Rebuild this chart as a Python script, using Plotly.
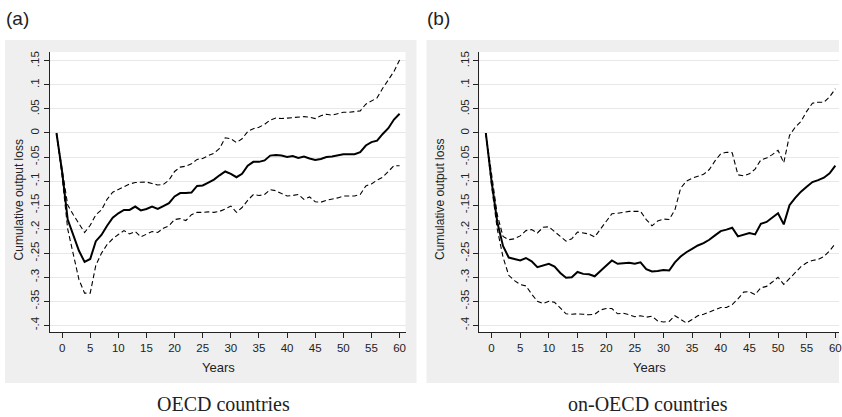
import plotly.graph_objects as go

years = list(range(-1, 61))

# Panel (a) OECD countries
oecd_mid = [0, -0.08, -0.18, -0.213, -0.245, -0.268, -0.262, -0.225, -0.212, -0.193, -0.176,
            -0.167, -0.160, -0.160, -0.153, -0.161, -0.158, -0.153, -0.158, -0.152, -0.146,
            -0.132, -0.125, -0.125, -0.124, -0.110, -0.109, -0.103, -0.097, -0.088, -0.080,
            -0.085, -0.092, -0.085, -0.068, -0.060, -0.060, -0.057, -0.047, -0.046, -0.047,
            -0.050, -0.048, -0.052, -0.049, -0.053, -0.056, -0.054, -0.050, -0.049, -0.047,
            -0.044, -0.044, -0.044, -0.040, -0.026, -0.019, -0.016, -0.002, 0.010, 0.028, 0.040]
oecd_up = [0, -0.075, -0.150, -0.170, -0.188, -0.207, -0.192, -0.170, -0.160, -0.138, -0.123,
           -0.117, -0.112, -0.106, -0.103, -0.102, -0.102, -0.105, -0.108, -0.107, -0.098,
           -0.080, -0.071, -0.069, -0.064, -0.055, -0.053, -0.047, -0.042, -0.032, -0.010,
           -0.012, -0.020, -0.012, 0.003, 0.009, 0.012, 0.018, 0.027, 0.031, 0.030,
           0.031, 0.032, 0.034, 0.034, 0.033, 0.030, 0.036, 0.039, 0.037, 0.040,
           0.043, 0.043, 0.044, 0.046, 0.060, 0.066, 0.073, 0.093, 0.110, 0.128, 0.152]
oecd_lo = [0, -0.090, -0.200, -0.250, -0.305, -0.333, -0.333, -0.275, -0.250, -0.232, -0.220,
           -0.211, -0.203, -0.210, -0.205, -0.216, -0.210, -0.205, -0.207, -0.198, -0.193,
           -0.180, -0.178, -0.182, -0.170, -0.165, -0.165, -0.164, -0.165, -0.163, -0.158,
           -0.152, -0.165, -0.155, -0.140, -0.128, -0.130, -0.128, -0.118, -0.120, -0.126,
           -0.131, -0.130, -0.128, -0.138, -0.133, -0.143, -0.144, -0.140, -0.138, -0.135,
           -0.131, -0.131, -0.131, -0.128, -0.110, -0.106, -0.098, -0.092, -0.080, -0.068, -0.068]

# Panel (b) non-OECD countries
non_mid = [0, -0.100, -0.185, -0.235, -0.259, -0.262, -0.265, -0.260, -0.267, -0.279, -0.275,
           -0.272, -0.278, -0.291, -0.301, -0.300, -0.289, -0.293, -0.294, -0.298, -0.287,
           -0.275, -0.265, -0.272, -0.271, -0.270, -0.272, -0.269, -0.283, -0.288, -0.287,
           -0.285, -0.286, -0.269, -0.257, -0.248, -0.241, -0.234, -0.229, -0.222, -0.213,
           -0.204, -0.201, -0.197, -0.215, -0.211, -0.208, -0.211, -0.189, -0.185, -0.176,
           -0.167, -0.190, -0.150, -0.135, -0.122, -0.112, -0.102, -0.098, -0.093, -0.084, -0.068]
non_up = [0, -0.090, -0.170, -0.215, -0.222, -0.220, -0.214, -0.203, -0.201, -0.208, -0.196,
          -0.195, -0.206, -0.215, -0.225, -0.220, -0.206, -0.208, -0.210, -0.216, -0.200,
          -0.185, -0.168, -0.167, -0.165, -0.163, -0.163, -0.163, -0.180, -0.193, -0.183,
          -0.179, -0.180, -0.160, -0.115, -0.100, -0.094, -0.090, -0.086, -0.076, -0.058,
          -0.043, -0.040, -0.041, -0.087, -0.089, -0.085, -0.075, -0.056, -0.052, -0.045,
          -0.036, -0.062, -0.005, 0.012, 0.024, 0.045, 0.062, 0.064, 0.064, 0.075, 0.092]
non_lo = [0, -0.110, -0.200, -0.258, -0.296, -0.307, -0.315, -0.318, -0.335, -0.350, -0.355,
          -0.350, -0.352, -0.363, -0.376, -0.377, -0.376, -0.377, -0.378, -0.377, -0.368,
          -0.365, -0.365, -0.376, -0.375, -0.378, -0.382, -0.380, -0.383, -0.381, -0.391,
          -0.393, -0.392, -0.380, -0.387, -0.395, -0.388, -0.380, -0.377, -0.372, -0.368,
          -0.363, -0.363, -0.357, -0.345, -0.331, -0.330, -0.336, -0.322, -0.319, -0.310,
          -0.300, -0.315, -0.303, -0.290, -0.278, -0.270, -0.265, -0.263, -0.257, -0.245, -0.230]

ytick_vals = [0.15, 0.1, 0.05, 0, -0.05, -0.1, -0.15, -0.2, -0.25, -0.3, -0.35, -0.4]
ytick_text = [".15", ".1", ".05", "0", "-.05", "-.1", "-.15", "-.2", "-.25", "-.3", "-.35", "-.4"]
xtick_vals = list(range(0, 61, 5))

W, H = 842, 417
fig = go.Figure()

def px(x):
    return x / W

def py(y):
    return 1 - y / H

panels = [
    ("x", "y", oecd_mid, oecd_up, oecd_lo),
    ("x2", "y2", non_mid, non_up, non_lo),
]
for xa, ya, mid, up, lo in panels:
    for s in (up, lo):
        fig.add_trace(go.Scatter(x=years, y=s, xaxis=xa, yaxis=ya, mode="lines",
                                 line=dict(color="black", width=1.1, dash="5px,3px"),
                                 showlegend=False, hoverinfo="skip"))
    fig.add_trace(go.Scatter(x=years, y=mid, xaxis=xa, yaxis=ya, mode="lines",
                             line=dict(color="black", width=2),
                             showlegend=False, hoverinfo="skip"))

# gray outer regions and white plot regions
for x0, x1, px0, px1 in [(5, 418, 50, 407), (428, 842, 481, 842)]:
    fig.add_shape(type="rect", xref="paper", yref="paper", x0=px(x0), x1=px(x1),
                  y0=py(383), y1=py(39), fillcolor="#EFEFEF", line_width=0, layer="below")
    fig.add_shape(type="rect", xref="paper", yref="paper", x0=px(px0), x1=px(px1),
                  y0=py(332), y1=py(51), fillcolor="white", line_width=0, layer="below")

font_sans = "Liberation Sans, Arial, sans-serif"
axis_common = dict(showline=True, linecolor="#222222", linewidth=1.3, ticks="outside",
                   ticklen=5, tickcolor="#222222", tickwidth=1, zeroline=False,
                   ticklabeloverflow="allow",
                   tickfont=dict(family=font_sans, size=11.5, color="#222222"))

fig.update_layout(
    width=W, height=H, margin=dict(l=0, r=0, t=0, b=0),
    paper_bgcolor="white", plot_bgcolor="rgba(0,0,0,0)",
    xaxis=dict(domain=[px(50), px(407)], range=[-2.18, 61.06], anchor="y",
               tickvals=xtick_vals, showgrid=False, **axis_common),
    yaxis=dict(domain=[py(332), py(51)], range=[-0.4143, 0.1687], anchor="x",
               tickvals=ytick_vals, ticktext=ytick_text, tickangle=-90,
               showgrid=True, gridcolor="#E8E8E8", gridwidth=1.2, **axis_common),
    xaxis2=dict(domain=[px(481), 1.0], range=[-2.14, 60.64], anchor="y2",
                tickvals=xtick_vals, showgrid=False, **axis_common),
    yaxis2=dict(domain=[py(332), py(51)], range=[-0.4143, 0.1687], anchor="x2",
                tickvals=ytick_vals, ticktext=ytick_text, tickangle=-90,
                showgrid=True, gridcolor="#E8E8E8", gridwidth=1.2, **axis_common),
)

ann = []
for cx, label in [(px(224), "OECD countries"), (px(650), "on-OECD countries")]:
    ann.append(dict(x=cx, y=py(404), xref="paper", yref="paper", text=label, showarrow=False,
                    xanchor="center", yanchor="middle",
                    font=dict(family="Liberation Serif, Times New Roman, serif", size=20, color="#222222")))
for cx, label in [(px(4), "(a)"), (px(427), "(b)")]:
    ann.append(dict(x=cx, y=py(18), xref="paper", yref="paper", text=label, showarrow=False,
                    xanchor="left", yanchor="middle",
                    font=dict(family=font_sans, size=19, color="#222222")))
for cx, label in [(px(219), "Years"), (px(652), "Years")]:
    ann.append(dict(x=cx, y=py(367), xref="paper", yref="paper", text=label, showarrow=False,
                    xanchor="center", yanchor="middle",
                    font=dict(family=font_sans, size=13, color="#222222")))
for cx in [px(19), px(441)]:
    ann.append(dict(x=cx, y=py(199), xref="paper", yref="paper", text="Cumulative output loss",
                    showarrow=False, textangle=-90, xanchor="center", yanchor="middle",
                    font=dict(family=font_sans, size=12, color="#222222")))
fig.update_layout(annotations=ann)

fig.write_html("out.html")
